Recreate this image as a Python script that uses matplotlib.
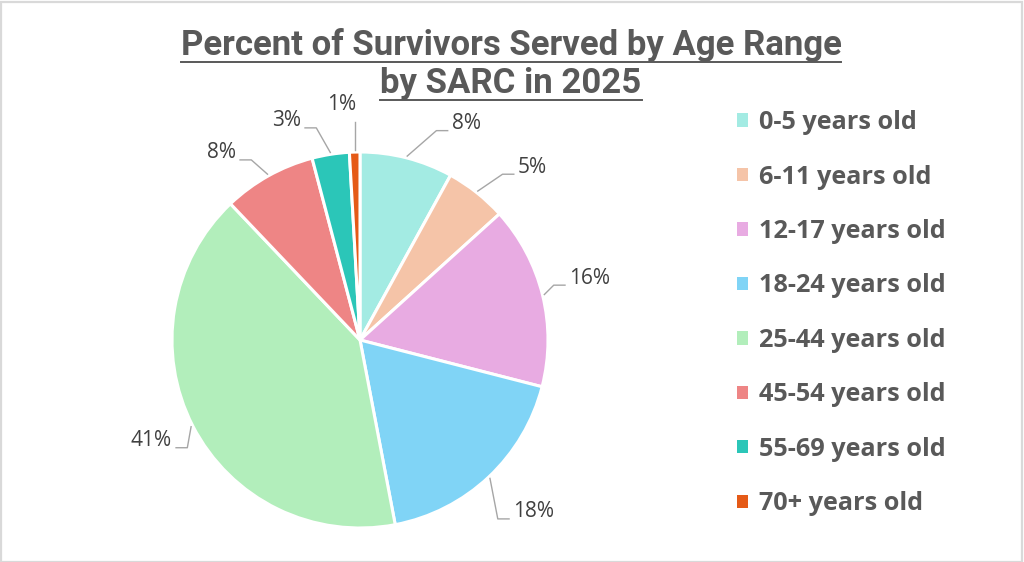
import numpy as np
import matplotlib
matplotlib.use("Agg")
import matplotlib.pyplot as plt
from matplotlib.patches import Patch, Rectangle
from matplotlib.lines import Line2D

categories = ["0-5 years old", "6-11 years old", "12-17 years old", "18-24 years old",
              "25-44 years old", "45-54 years old", "55-69 years old", "70+ years old"]
percents = [8.0, 5.3, 15.7, 18.0, 40.9, 8.0, 3.2, 0.9]
colors = ["#A3EBE3", "#F5C4A8", "#E8ABE2", "#80D4F6", "#B2EEBB", "#EE8585", "#2BC6B8", "#E55A17"]
title_lines = ["Percent of Survivors Served by Age Range", "by SARC in 2025"]

# label placement style: angle nudge (deg, clockwise) and radius of text anchor
nudges = [8.6, 4.1, -2.6, 1.5, -1.0, -4.4, -6.1, -2.3]
label_r = [1.25, 1.245, 1.16, 1.225, 1.135, 1.194, 1.207, 1.19]

plt.rcParams['font.family'] = ['Roboto', 'DejaVu Sans']

W, H = 1024, 562
fig = plt.figure(figsize=(W / 100, H / 100), dpi=100)
fig.patch.set_facecolor("white")

cx, cy, r = 360, 340, 188
ax = fig.add_axes([(cx - r) / W, (H - cy - r) / H, 2 * r / W, 2 * r / H])

wedges, _ = ax.pie(percents, colors=colors, startangle=90, counterclock=False,
                   radius=1, center=(0, 0),
                   wedgeprops=dict(edgecolor="white", linewidth=2.2))
ax.set_xlim(-1, 1)
ax.set_ylim(-1, 1)
ax.set_aspect("auto")
ax.axis("off")

lc = "#A6A6A6"
lab_font = dict(fontsize=15, family="Open Sans", color="#404040", clip_on=False)
total = sum(percents)
cum = 0
for i, p in enumerate(percents):
    mid = (cum + p / 2) / total * 360  # clockwise from top
    cum += p
    a0 = np.deg2rad(90 - mid)
    al = np.deg2rad(90 - (mid + nudges[i]))
    x0, y0 = 1.01 * np.cos(a0), 1.01 * np.sin(a0)
    lx, ly = label_r[i] * np.cos(al), label_r[i] * np.sin(al)
    lab = f"{round(p):d}%"
    if abs(lx) < 0.1:
        # label straight above: vertical leader
        top = ly - 0.025
        ax.add_line(Line2D([x0, x0], [y0, top], color=lc, lw=1.0, clip_on=False))
        ax.text(x0 + 0.01, top + 0.035, lab, ha="right", va="bottom", **lab_font)
        continue
    sgn = 1 if lx >= 0 else -1
    hy = ly - 0.037
    hx1 = lx - sgn * 0.022
    hx0 = hx1 - sgn * 0.06
    ax.add_line(Line2D([x0, hx0, hx1], [y0, hy, hy], color=lc, lw=1.0, clip_on=False))
    ax.text(lx, ly, lab, ha="left" if sgn > 0 else "right", va="center", **lab_font)

# title with underline
title_y = [45, 83]
fig.canvas.draw()
renderer = fig.canvas.get_renderer()
for line, yy in zip(title_lines, title_y):
    t = fig.text(511 / W, 1 - yy / H, line, ha="center", va="center",
                 fontsize=25, fontweight="bold", color="#595959")
    bb = t.get_window_extent(renderer=renderer)
    uy = 1 - (yy + 17) / H
    fig.add_artist(Line2D([bb.x0 / W, bb.x1 / W], [uy, uy], transform=fig.transFigure,
                          color="#595959", lw=1.4))

handles = [Patch(facecolor=c, edgecolor="none") for c in colors]
leg = fig.legend(handles, categories, loc="upper left",
                 bbox_to_anchor=(727 / W, 1 - 100 / H), frameon=False,
                 handlelength=0.43, handleheight=0.43, handletextpad=0.42,
                 labelspacing=1.165, borderaxespad=0,
                 prop=dict(family="Open Sans", size=18.2, weight="bold"))
for txt in leg.get_texts():
    txt.set_color("#595959")

fig.add_artist(Rectangle((0.5 / W, 0.5 / H), 1 - 2.5 / W, 1 - 2.5 / H,
                         transform=fig.transFigure, fill=False,
                         edgecolor="#D9D9D9", lw=1.6))

fig.savefig("out.png", dpi=100)
